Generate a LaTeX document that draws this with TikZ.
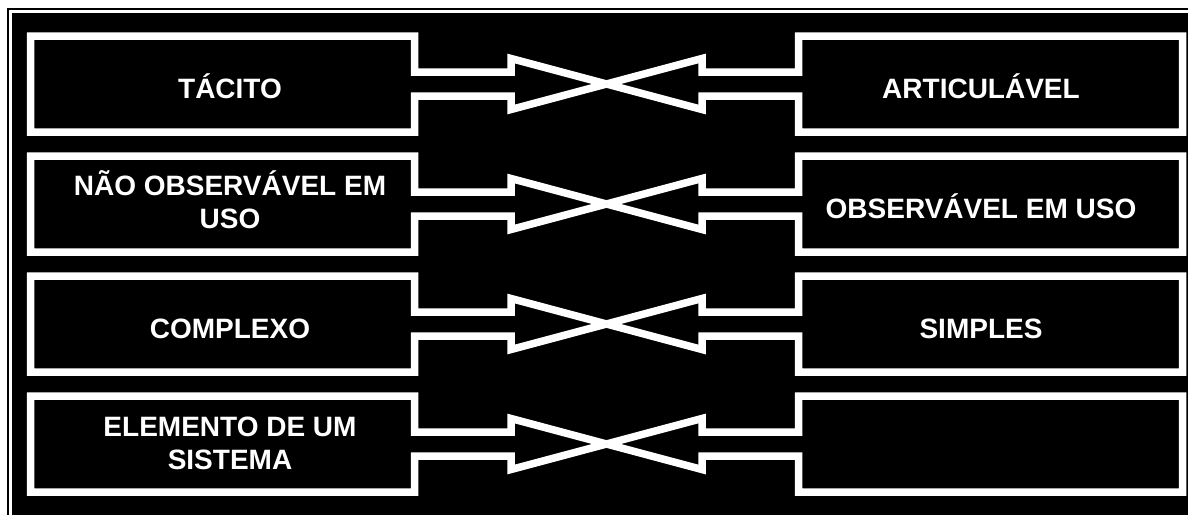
\documentclass[tikz,border=0pt]{standalone}
\usepackage{fontspec}
\setmainfont{Liberation Sans}
\usetikzlibrary{calc}
\begin{document}
\begin{tikzpicture}[x=1pt,y=-1pt,
  outl/.style={draw=white,line width=7.5pt,line join=miter,line cap=butt},
  boxnode/.style={rectangle,minimum width=384pt,minimum height=96pt,inner sep=0pt,outer sep=0pt},
  lbl/.style={text=white,font=\fontsize{28}{33}\selectfont\bfseries,align=center,inner sep=0pt,anchor=base}]
\useasboundingbox (0,0) rectangle (1188,514);
\clip (0,0) rectangle (1188,514);
\fill[white] (0,0) rectangle (1188,514);
\fill[black] (7,8) rectangle (1200,530);
\draw[white,line width=3pt] (10.7,11.3) rectangle (1210,540);
\foreach \r/\c in {1/84,2/204,3/324,4/444}{
  \node[boxnode] (L\r) at (222.5,\c) {};
  \node[boxnode] (R\r) at (990.5,\c) {};
  \coordinate (X\r) at (606.5,\c);
  \draw[outl] (X\r) -- ($(X\r)+(-95.5,25.5)$) -- ($(X\r)+(-95.5,12)$) -- ($(L\r.east)+(0,12)$)
    -- (L\r.south east) -- (L\r.south west) -- (L\r.north west) -- (L\r.north east)
    -- ($(L\r.east)+(0,-12)$) -- ($(X\r)+(-95.5,-12)$) -- ($(X\r)+(-95.5,-25.5)$) -- (X\r);
  \draw[outl] (X\r) -- ($(X\r)+(95.5,25.5)$) -- ($(X\r)+(95.5,12)$) -- ($(R\r.west)+(0,12)$)
    -- (R\r.south west) -- (R\r.south east) -- (R\r.north east) -- (R\r.north west)
    -- ($(R\r.west)+(0,-12)$) -- ($(X\r)+(95.5,-12)$) -- ($(X\r)+(95.5,-25.5)$) -- (X\r);
}
\node[lbl] (tL1) at ($(L1.center)+(7.5,14)$) {TÁCITO};
\node[lbl] (tR1) at ($(R1.center)+(-9.5,14)$) {ARTICULÁVEL};
\node[lbl] (tL2) at ($(L2.center)+(7.5,24)$) {NÃO OBSERVÁVEL EM\\USO};
\node[lbl] (tR2) at ($(R2.center)+(-9.5,14)$) {OBSERVÁVEL EM USO};
\node[lbl] (tL3) at ($(L3.center)+(7.5,14)$) {COMPLEXO};
\node[lbl] (tR3) at ($(R3.center)+(-9.5,14)$) {SIMPLES};
\node[lbl] (tL4) at ($(L4.center)+(7.5,25)$) {ELEMENTO DE UM\\SISTEMA};
\end{tikzpicture}
\end{document}
